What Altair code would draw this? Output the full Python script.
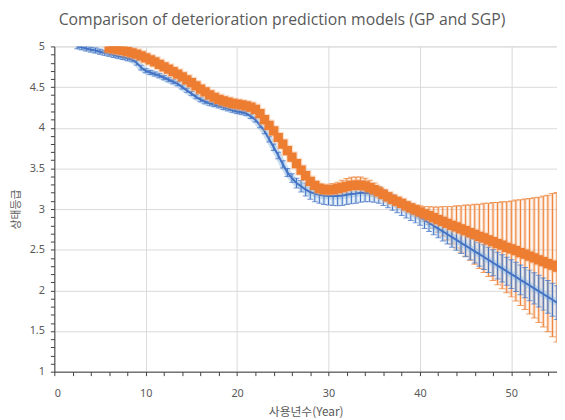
import altair as alt
import pandas as pd

# ---------------- data ----------------
blue_years = [2.5, 3, 3.5, 4, 4.5, 5, 5.5, 6, 6.5, 7, 7.5, 8, 8.5, 9, 9.5, 10,
              10.5, 11, 11.5, 12, 12.5, 13, 13.5, 14, 14.5, 15, 15.5, 16, 16.5, 17,
              17.5, 18, 18.5, 19, 19.5, 20, 20.5, 21, 21.5, 22, 22.5, 23, 23.5, 24,
              24.5, 25, 25.5, 26, 26.5, 27, 27.5, 28, 28.5, 29, 29.5, 30, 30.5, 31,
              31.5, 32, 32.5, 33, 33.5, 34, 34.5, 35, 35.5, 36, 36.5, 37, 37.5, 38,
              38.5, 39, 39.5, 40, 40.5, 41, 41.5, 42, 42.5, 43, 43.5, 44, 44.5, 45,
              45.5, 46, 46.5, 47, 47.5, 48, 48.5, 49, 49.5, 50, 50.5, 51, 51.5, 52,
              52.5, 53, 53.5, 54, 54.5, 55]
blue_mean = [5.00, 4.99, 4.975, 4.96, 4.95, 4.935, 4.92, 4.91, 4.895, 4.88, 4.87, 4.855,
             4.84, 4.80, 4.74, 4.70, 4.68, 4.66, 4.64, 4.615, 4.59, 4.565, 4.54, 4.50,
             4.46, 4.42, 4.38, 4.345, 4.32, 4.30, 4.285, 4.27, 4.25, 4.235, 4.215, 4.20,
             4.19, 4.175, 4.14, 4.10, 4.03, 3.96, 3.86, 3.76, 3.66, 3.55, 3.45, 3.38,
             3.32, 3.28, 3.24, 3.21, 3.19, 3.175, 3.165, 3.16, 3.16, 3.16, 3.165, 3.175,
             3.185, 3.19, 3.20, 3.20, 3.195, 3.185, 3.17, 3.14, 3.11, 3.08, 3.05, 3.02,
             2.99, 2.96, 2.93, 2.90, 2.865, 2.83, 2.795, 2.76, 2.725, 2.69, 2.655, 2.62,
             2.585, 2.55, 2.515, 2.48, 2.445, 2.41, 2.375, 2.34, 2.305, 2.27, 2.235, 2.20,
             2.165, 2.13, 2.095, 2.06, 2.025, 1.99, 1.955, 1.92, 1.885, 1.85]
blue_err = [0.03] * 15 + [0.025] * 24 + \
           [0.03, 0.03, 0.035, 0.035, 0.04, 0.04, 0.045, 0.05, 0.055, 0.06,
            0.07, 0.08, 0.09, 0.10, 0.105, 0.11,
            0.11, 0.115, 0.12, 0.12, 0.12, 0.12, 0.12, 0.115, 0.11, 0.105,
            0.10, 0.10, 0.095, 0.095, 0.095, 0.095, 0.10, 0.10, 0.10, 0.10,
            0.10, 0.103, 0.106, 0.11, 0.113, 0.117, 0.12, 0.124, 0.128, 0.132,
            0.136, 0.14, 0.144, 0.148, 0.152, 0.156, 0.16, 0.164, 0.168, 0.172,
            0.176, 0.18, 0.183, 0.186, 0.189, 0.192, 0.195, 0.198, 0.201, 0.204, 0.207]

orange_years = [6, 6.5, 7, 7.5, 8, 8.5, 9, 9.5, 10, 10.5, 11, 11.5, 12, 12.5, 13, 13.5,
                14, 14.5, 15, 15.5, 16, 16.5, 17, 17.5, 18, 18.5, 19, 19.5, 20, 20.5,
                21, 21.5, 22, 22.5, 23, 23.5, 24, 24.5, 25, 25.5, 26, 26.5, 27, 27.5,
                28, 28.5, 29, 29.5, 30, 30.5, 31, 31.5, 32, 32.5, 33, 33.5, 34, 34.5,
                35, 35.5, 36, 36.5, 37, 37.5, 38, 38.5, 39, 39.5, 40, 40.5, 41, 41.5,
                42, 42.5, 43, 43.5, 44, 44.5, 45, 45.5, 46, 46.5, 47, 47.5, 48, 48.5,
                49, 49.5, 50, 50.5, 51, 51.5, 52, 52.5, 53, 53.5, 54, 54.5, 55]
orange_mean = [4.98, 4.97, 4.96, 4.95, 4.935, 4.92, 4.905, 4.885, 4.86, 4.835, 4.81, 4.78,
               4.75, 4.72, 4.69, 4.66, 4.625, 4.59, 4.555, 4.515, 4.475, 4.44, 4.405, 4.375,
               4.35, 4.33, 4.315, 4.30, 4.29, 4.28, 4.27, 4.255, 4.225, 4.175, 4.10, 4.03,
               3.96, 3.88, 3.80, 3.72, 3.64, 3.56, 3.48, 3.41, 3.34, 3.29, 3.255, 3.24,
               3.235, 3.24, 3.25, 3.265, 3.28, 3.29, 3.295, 3.295, 3.285, 3.265, 3.24, 3.21,
               3.18, 3.15, 3.12, 3.095, 3.07, 3.04, 3.015, 2.99, 2.965, 2.94, 2.92, 2.895,
               2.87, 2.85, 2.825, 2.80, 2.78, 2.755, 2.735, 2.71, 2.69, 2.665, 2.645, 2.62,
               2.60, 2.575, 2.555, 2.53, 2.51, 2.49, 2.465, 2.445, 2.42, 2.40, 2.375, 2.355,
               2.33, 2.31, 2.285]
orange_err = [0.03] * 43 + \
             [0.035, 0.045, 0.05, 0.055, 0.06, 0.07, 0.075, 0.08, 0.09, 0.095, 0.10, 0.10,
              0.10, 0.095, 0.09, 0.08, 0.07, 0.06, 0.055, 0.05, 0.045, 0.04, 0.045, 0.05,
              0.06, 0.075, 0.09, 0.11, 0.13, 0.155, 0.18, 0.205, 0.23, 0.26, 0.285, 0.315,
              0.34, 0.37, 0.395, 0.425, 0.45, 0.48, 0.505, 0.535, 0.56, 0.59, 0.62, 0.65,
              0.68, 0.71, 0.74, 0.77, 0.805, 0.84, 0.88, 0.92]

x_major = [0, 10, 20, 30, 40, 50]
y_major = [1, 1.5, 2, 2.5, 3, 3.5, 4, 4.5, 5]

TITLE = "Comparison of deterioration prediction models (GP and SGP)"
X_TITLE = "사용년수(Year)"
Y_TITLE = "상태등급"

# ---------------- build tables ----------------
blue = pd.DataFrame(list(zip(blue_years, blue_mean, blue_err)), columns=["year", "mean", "err"])
blue["lo"] = blue["mean"] - blue["err"]
blue["hi"] = blue["mean"] + blue["err"]
orange = pd.DataFrame(list(zip(orange_years, orange_mean, orange_err)), columns=["year", "mean", "err"])
orange["lo"] = orange["mean"] - orange["err"]
orange["hi"] = orange["mean"] + orange["err"]

BLUE = "#4472C4"
BLUE_GLOW = "#9DC3E6"
ORANGE = "#ED7D31"
ORANGE_GLOW = "#F4B183"
GRAY = "#595959"
LABEL_FONT = "Noto Sans"
KR_FONT = "Noto Sans CJK KR"

x_minor = list(range(0, 55, 2))
y_minor = [round(1 + 0.1 * i, 1) for i in range(41)]

x_test = "indexof([" + ",".join(str(v) for v in x_major) + "], datum.value) >= 0"
y_test = "abs(datum.value * 2 - round(datum.value * 2)) < 0.001"

xaxis = alt.Axis(
    values=x_minor, labelExpr=f"({x_test}) ? datum.label : ''", labelOverlap=False,
    gridOpacity={"condition": {"test": x_test, "value": 1}, "value": 0},
    gridColor="#D9D9D9", gridWidth=1, tickSize=4, tickColor="#404040",
    domainColor="#404040", labelColor=GRAY, labelFont=LABEL_FONT, labelFontSize=11,
    labelPadding=12, titleFont=KR_FONT, titleFontSize=12, titleColor=GRAY,
    titleFontWeight="normal", titleX=255, titleY=40, titleBaseline="middle",
)
yaxis = alt.Axis(
    values=y_minor, format="~g", labelExpr=f"({y_test}) ? datum.label : ''", labelOverlap=False,
    gridOpacity={"condition": {"test": y_test, "value": 1}, "value": 0},
    gridColor="#D9D9D9", gridWidth=1, tickSize=4, tickColor="#404040",
    domainColor="#404040", labelColor=GRAY, labelFont=LABEL_FONT, labelFontSize=11,
    labelPadding=6, titleFont=KR_FONT, titleFontSize=11, titleColor=GRAY,
    titleFontWeight="normal", titleX=-38, titleY=165, titleAngle=-90,
    titleAlign="center", titleBaseline="middle",
)

xs = alt.Scale(domain=[0, 55], nice=False, zero=False)
ys = alt.Scale(domain=[1, 5], nice=False, zero=False)


def X():
    return alt.X("year:Q", scale=xs, axis=xaxis, title=X_TITLE)


def Y(field):
    return alt.Y(f"{field}:Q", scale=ys, axis=yaxis, title=Y_TITLE)


ob = alt.Chart(orange)
bb = alt.Chart(blue)

layers = [
    ob.mark_rule(color=ORANGE_GLOW, strokeWidth=3.5, opacity=0.4, clip=True).encode(x=X(), y=Y("lo"), y2="hi:Q"),
    ob.mark_rule(color=ORANGE, strokeWidth=1, clip=True).encode(x=X(), y=Y("lo"), y2="hi:Q"),
    ob.mark_tick(color=ORANGE, orient="horizontal", size=7, thickness=1, clip=True).encode(x=X(), y=Y("lo")),
    ob.mark_tick(color=ORANGE, orient="horizontal", size=7, thickness=1, clip=True).encode(x=X(), y=Y("hi")),
    bb.mark_line(color=BLUE_GLOW, strokeWidth=7, opacity=0.55, clip=True).encode(x=X(), y=Y("mean")),
    bb.mark_rule(color=BLUE_GLOW, strokeWidth=4, opacity=0.45, clip=True).encode(x=X(), y=Y("lo"), y2="hi:Q"),
    bb.mark_rule(color=BLUE, strokeWidth=1, clip=True).encode(x=X(), y=Y("lo"), y2="hi:Q"),
    bb.mark_tick(color=BLUE, orient="horizontal", size=6, thickness=1, clip=True).encode(x=X(), y=Y("lo")),
    bb.mark_tick(color=BLUE, orient="horizontal", size=6, thickness=1, clip=True).encode(x=X(), y=Y("hi")),
    bb.mark_line(color=BLUE, strokeWidth=2, clip=True).encode(x=X(), y=Y("mean")),
    ob.mark_square(color=ORANGE_GLOW, size=140, opacity=0.4, clip=True).encode(x=X(), y=Y("mean")),
    ob.mark_square(color=ORANGE, size=88, opacity=1, clip=True).encode(x=X(), y=Y("mean")),
]

chart = alt.layer(*layers).properties(
    width=510, height=330,
    autosize=alt.AutoSizeParams(type="none"),
    padding={"left": 47, "top": 36, "right": 0, "bottom": 44},
    title=alt.TitleParams(text=TITLE, font="Open Sans", fontSize=16, fontWeight="normal",
                          color=GRAY, anchor="middle", frame="group", dx=-24, dy=19,
                          baseline="bottom", offset=16),
).configure_view(stroke=None).configure(background="white")

chart.save("out.html", embed_options={"renderer": "svg", "actions": False})
